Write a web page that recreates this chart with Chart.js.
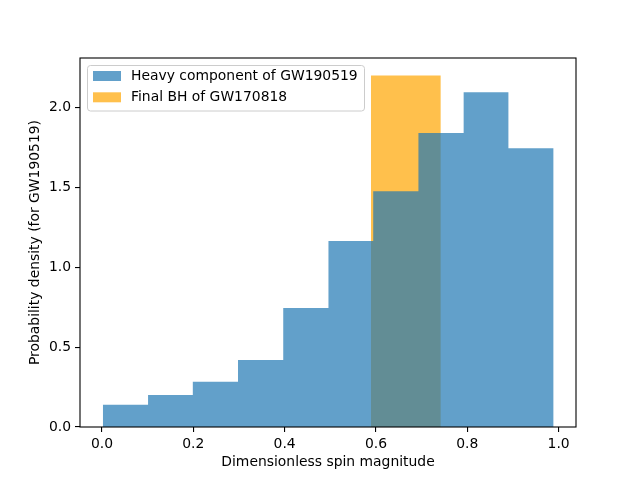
<!DOCTYPE html>
<html>
<head>
<meta charset="utf-8">
<script src="https://cdn.jsdelivr.net/npm/chart.js@4.4.1/dist/chart.umd.min.js"></script>
<style>
  body { margin: 0; background: #fff; }
</style>
</head>
<body>
<canvas id="chart" width="640" height="480"></canvas>
<script>
//histogram bins
const heavyEdges = [0.002, 0.101, 0.199, 0.298, 0.397, 0.496, 0.594, 0.693, 0.792, 0.890, 0.989];
const heavyDensity = [0.139, 0.201, 0.283, 0.420, 0.745, 1.164, 1.476, 1.840, 2.095, 1.745];
const finalEdges = [0.589, 0.742];
const finalDensity = [2.2];

const seriesNames = ["Heavy component of GW190519", "Final BH of GW170818"];
const xTicks = [0.0, 0.2, 0.4, 0.6, 0.8, 1.0];
const yTicks = [0.0, 0.5, 1.0, 1.5, 2.0];

const BLUE = "rgba(31,119,180,0.7)";
const ORANGE = "rgba(255,165,0,0.7)";
const FONT = "DejaVu Sans";
const FSIZE = 13.9;

//bin edges + heights -> points for a stepped, filled line
function stepPoints(edges, heights) {
  const pts = heights.map((h, i) => ({ x: edges[i], y: h }));
  pts.push({ x: edges[edges.length - 1], y: 0 });
  return pts;
}

//axes frame on all four sides
const framePlugin = {
  id: "frame",
  afterDraw(chart) {
    const { ctx, chartArea: a } = chart;
    ctx.save();
    ctx.strokeStyle = "#000";
    ctx.lineWidth = 1.1;
    ctx.strokeRect(a.left, a.top, a.right - a.left, a.bottom - a.top);
    ctx.restore();
  }
};

//matplotlib style legend, upper left inside the axes
const legendPlugin = {
  id: "mplLegend",
  afterDraw(chart) {
    const { ctx } = chart;
    const x0 = 87.5, y0 = 65.5, w = 277, h = 45.5, r = 3;
    ctx.save();
    ctx.beginPath();
    ctx.roundRect(x0, y0, w, h, r);
    ctx.fillStyle = "rgba(255,255,255,0.8)";
    ctx.fill();
    ctx.strokeStyle = "#cccccc";
    ctx.lineWidth = 1;
    ctx.stroke();
    ctx.font = FSIZE + "px '" + FONT + "'";
    ctx.textBaseline = "middle";
    ctx.textAlign = "left";
    chart.data.datasets.forEach((ds, i) => {
      const cy = 76 + i * 21.3;
      ctx.fillStyle = ds.backgroundColor;
      ctx.fillRect(93, cy - 5, 28, 10);
      ctx.fillStyle = "#000";
      ctx.fillText(ds.label, 131, cy);
    });
    ctx.restore();
  }
};

Chart.defaults.font.family = FONT;
Chart.defaults.font.size = FSIZE;
Chart.defaults.color = "#000";

const ctx = document.getElementById("chart").getContext("2d");
const chart = new Chart(ctx, {
  type: "line",
  data: {
    datasets: [
      {
        label: seriesNames[0],
        data: stepPoints(heavyEdges, heavyDensity),
        stepped: true,
        fill: "origin",
        backgroundColor: BLUE,
        borderColor: "transparent",
        borderWidth: 0,
        pointRadius: 0
      },
      {
        label: seriesNames[1],
        data: stepPoints(finalEdges, finalDensity),
        stepped: true,
        fill: "origin",
        backgroundColor: ORANGE,
        borderColor: "transparent",
        borderWidth: 0,
        pointRadius: 0
      }
    ]
  },
  options: {
    responsive: false,
    animation: false,
    layout: { padding: { top: 58, right: 64, left: 0, bottom: 0 } },
    plugins: {
      legend: { display: false },
      tooltip: { enabled: false }
    },
    scales: {
      x: {
        type: "linear",
        min: -0.048,
        max: 1.038,
        afterFit: (scale) => { scale.height = 53; },
        afterBuildTicks: (scale) => { scale.ticks = xTicks.map((v) => ({ value: v })); },
        ticks: {
          padding: 4,
          maxRotation: 0,
          autoSkip: false,
          callback: (v) => v.toFixed(1)
        },
        grid: { drawOnChartArea: false, drawTicks: true, tickLength: 5, color: "#000", lineWidth: 1.1 },
        border: { display: false },
        title: {
          display: true,
          text: "Dimensionless spin magnitude",
          padding: { top: 0, bottom: 9.7 }
        }
      },
      y: {
        type: "linear",
        min: 0,
        max: 2.31,
        afterFit: (scale) => { scale.width = 80; },
        afterBuildTicks: (scale) => { scale.ticks = yTicks.map((v) => ({ value: v })); },
        ticks: {
          padding: 4,
          autoSkip: false,
          callback: (v) => v.toFixed(1)
        },
        grid: { drawOnChartArea: false, drawTicks: true, tickLength: 5, color: "#000", lineWidth: 1.1 },
        border: { display: false },
        title: {
          display: true,
          text: "Probability density (for GW190519)",
          padding: { top: 26.7, bottom: 0 }
        }
      }
    }
  },
  plugins: [framePlugin, legendPlugin]
});
</script>
</body>
</html>
